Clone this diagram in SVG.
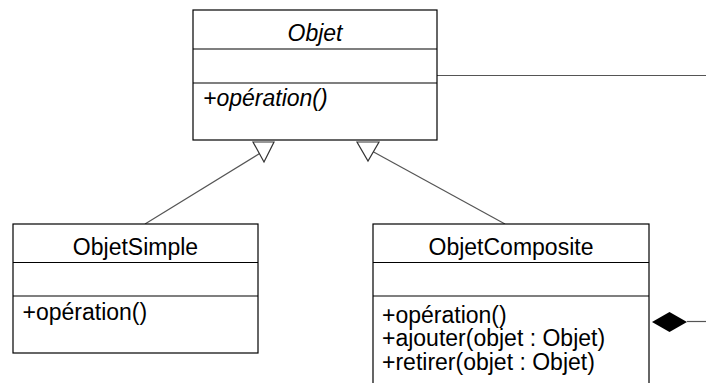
<svg xmlns="http://www.w3.org/2000/svg" width="706" height="383" viewBox="0 0 706 383">
<style>
.box{fill:#fff;stroke:#000;stroke-width:1.2}
.div{stroke:#000;stroke-width:1.2}
.t{font-family:"Liberation Sans",Arial,sans-serif;font-size:23px;fill:#000}
.c{text-anchor:middle}
.i{font-style:italic}
.edge{stroke:#555;stroke-width:1.2;fill:none}
.tri{fill:#fff;stroke:#333;stroke-width:1.2}
</style>
<rect width="706" height="383" fill="#fff"/>
<g id="connectors">
<line class="edge" x1="437" y1="75.5" x2="706" y2="75.5"/>
<line class="edge" x1="145" y1="224" x2="262" y2="152"/>
<polygon class="tri" points="253,142 274,142 264,162"/>
<line class="edge" x1="505" y1="224" x2="370" y2="150"/>
<polygon class="tri" points="357,142 379,142 368,161"/>
<line class="edge" x1="687" y1="321.5" x2="706" y2="321.5"/>
<polygon points="652,322 669.5,312 687,322 669.5,332" fill="#000"/>
</g>
<g id="Objet">
<rect class="box" x="193" y="10" width="244" height="130"/>
<line class="div" x1="193" y1="49" x2="437" y2="49"/>
<line class="div" x1="193" y1="83" x2="437" y2="83"/>
<text class="t c i" x="315" y="41">Objet</text>
<text class="t i" x="203" y="106">+opération()</text>
</g>
<g id="ObjetSimple">
<rect class="box" x="13" y="224" width="245" height="129"/>
<line class="div" x1="13" y1="262.5" x2="258" y2="262.5"/>
<line class="div" x1="13" y1="296" x2="258" y2="296"/>
<text class="t c" x="135.5" y="255">ObjetSimple</text>
<text class="t" x="22.5" y="320">+opération()</text>
</g>
<g id="ObjetComposite">
<rect class="box" x="373" y="224" width="276" height="200"/>
<line class="div" x1="373" y1="262.5" x2="649" y2="262.5"/>
<line class="div" x1="373" y1="296" x2="649" y2="296"/>
<text class="t c" x="511" y="255">ObjetComposite</text>
<text class="t" x="382" y="322.5">+opération()</text>
<text class="t" x="382" y="346">+ajouter(objet : Objet)</text>
<text class="t" x="382" y="369.5">+retirer(objet : Objet)</text>
</g>
</svg>
